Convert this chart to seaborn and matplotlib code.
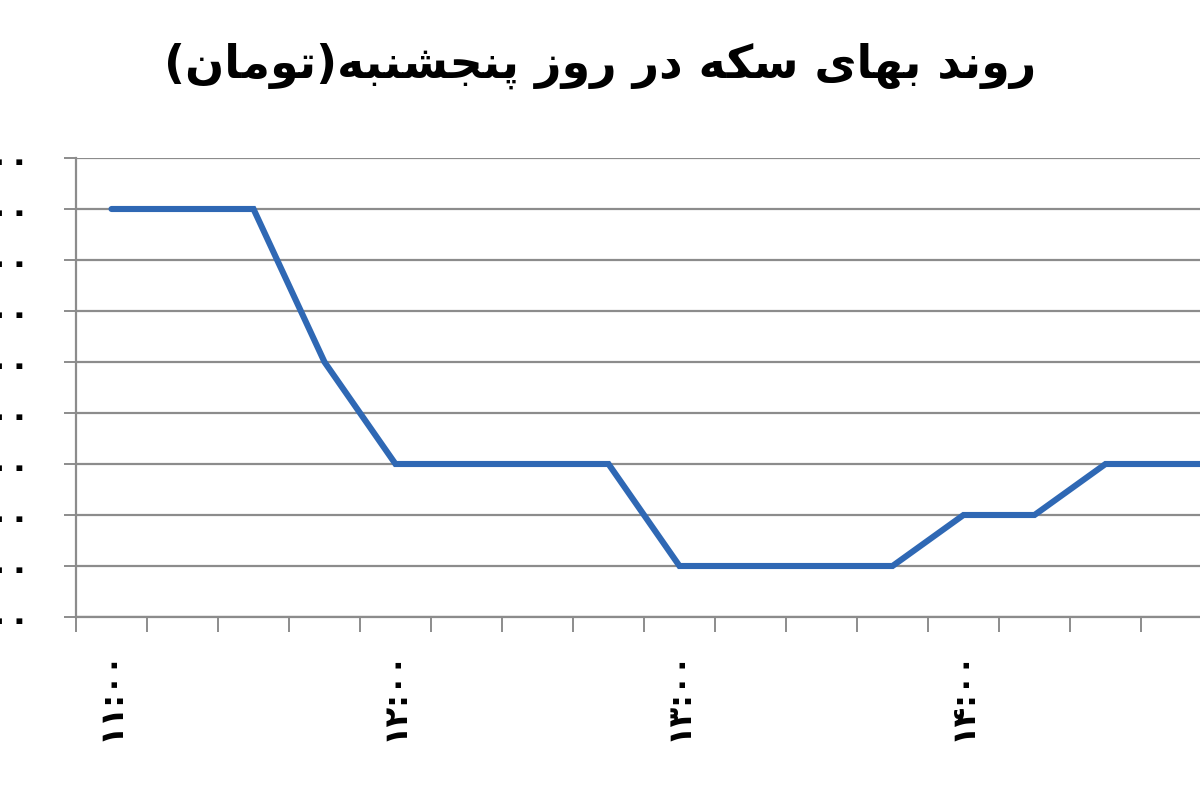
import matplotlib
matplotlib.use("Agg")
import matplotlib.pyplot as plt
import seaborn as sns
import pandas as pd
from matplotlib.ticker import FixedLocator, FuncFormatter

# quarter-hour readings on Thursday (Persian digits)
times = ["۱۱:۰۰", "۱۱:۱۵", "۱۱:۳۰", "۱۱:۴۵",
         "۱۲:۰۰", "۱۲:۱۵", "۱۲:۳۰", "۱۲:۴۵",
         "۱۳:۰۰", "۱۳:۱۵", "۱۳:۳۰", "۱۳:۴۵",
         "۱۴:۰۰", "۱۴:۱۵", "۱۴:۳۰", "۱۴:۴۵",
         "۱۵:۰۰"]
prices = [1128000, 1128000, 1128000, 1125000,
          1123000, 1123000, 1123000, 1123000,
          1121000, 1121000, 1121000, 1121000,
          1122000, 1122000, 1123000, 1123000,
          1123000]
y_ticks = [1120000, 1121000, 1122000, 1123000, 1124000,
           1125000, 1126000, 1127000, 1128000, 1129000]
# labels shown on the (cropped) time axis
shown_times = ["۱۱:۰۰", "۱۲:۰۰", "۱۳:۰۰", "۱۴:۰۰"]
title = "روند بهای سکه در روز پنجشنبه(تومان)"

# matplotlib has no arabic shaping, so do the joining forms by hand
FORMS = {
    "ا": ("\uFE8D", "\uFE8E", None, None),
    "ب": ("\uFE8F", "\uFE90", "\uFE91", "\uFE92"),
    "پ": ("\uFB56", "\uFB57", "\uFB58", "\uFB59"),
    "ت": ("\uFE95", "\uFE96", "\uFE97", "\uFE98"),
    "ج": ("\uFE9D", "\uFE9E", "\uFE9F", "\uFEA0"),
    "د": ("\uFEA9", "\uFEAA", None, None),
    "ر": ("\uFEAD", "\uFEAE", None, None),
    "ز": ("\uFEAF", "\uFEB0", None, None),
    "س": ("\uFEB1", "\uFEB2", "\uFEB3", "\uFEB4"),
    "ش": ("\uFEB5", "\uFEB6", "\uFEB7", "\uFEB8"),
    "ک": ("\uFB8E", "\uFB8F", "\uFB90", "\uFB91"),
    "م": ("\uFEE1", "\uFEE2", "\uFEE3", "\uFEE4"),
    "ن": ("\uFEE5", "\uFEE6", "\uFEE7", "\uFEE8"),
    "ه": ("\uFEE9", "\uFEEA", "\uFEEB", "\uFEEC"),
    "و": ("\uFEED", "\uFEEE", None, None),
    "ی": ("\uFBFC", "\uFBFD", "\uFBFE", "\uFBFF"),
}
MIRROR = {"(": ")", ")": "("}


def shape_rtl(text):
    out = []
    for i, c in enumerate(text):
        if c not in FORMS:
            out.append(MIRROR.get(c, c))
            continue
        prev = text[i - 1] if i > 0 else ""
        nxt = text[i + 1] if i + 1 < len(text) else ""
        joins_prev = prev in FORMS and FORMS[prev][2] is not None
        joins_next = nxt in FORMS and FORMS[c][2] is not None
        iso, fin, ini, med = FORMS[c]
        if joins_prev and joins_next:
            out.append(med)
        elif joins_prev:
            out.append(fin)
        elif joins_next:
            out.append(ini)
        else:
            out.append(iso)
    return "".join(reversed(out))


def to_fa(s):
    return s.translate(str.maketrans("0123456789", "۰۱۲۳۴۵۶۷۸۹"))


df = pd.DataFrame({"slot": range(len(times)), "price": prices})

sns.set_style("white")
plt.rcParams["font.family"] = ["DejaVu Sans"]
plt.rcParams["text.color"] = "black"
plt.rcParams["xtick.labelcolor"] = "black"
plt.rcParams["ytick.labelcolor"] = "black"

fig = plt.figure(figsize=(12, 8), dpi=100)
# plot area runs past the right edge of the picture, like the cropped original
ax = fig.add_axes([76 / 1200, 183 / 800, 71 * len(times) / 1200, 459 / 800])

sns.lineplot(data=df, x="slot", y="price", ax=ax, color="#2f68b4",
             linewidth=4.4, sort=False, solid_joinstyle="miter")

grid_c = "#8c8c8c"
ax.set_ylim(y_ticks[0], y_ticks[-1])
ax.yaxis.set_major_locator(FixedLocator(y_ticks))
ax.yaxis.set_major_formatter(FuncFormatter(lambda v, p: to_fa(f"{int(v):d}")))
ax.grid(axis="y", color=grid_c, linewidth=1.6)
ax.set_axisbelow(True)

ax.set_xlim(-0.5, len(times) - 0.5)
ax.xaxis.set_major_locator(FixedLocator([times.index(t) for t in shown_times]))
ax.set_xticklabels(shown_times, rotation=90, fontsize=23, fontweight="bold")
ax.xaxis.set_minor_locator(FixedLocator([s - 0.5 for s in df["slot"]] + [len(times) - 0.5]))
ax.tick_params(axis="x", which="major", length=0, pad=24)
ax.tick_params(axis="x", which="minor", length=11, width=1.4, color=grid_c, bottom=True)
ax.tick_params(axis="y", length=9, width=1.4, color=grid_c, left=True, pad=24, labelsize=24)
for lab in ax.get_yticklabels():
    lab.set_fontweight("bold")

for side in ["top", "right"]:
    ax.spines[side].set_visible(False)
for side in ["left", "bottom"]:
    ax.spines[side].set_color(grid_c)
    ax.spines[side].set_linewidth(1.6)

ax.set_xlabel("")
ax.set_ylabel("")

fig.text(0.5, 0.918, shape_rtl(title), ha="center", va="center",
         fontsize=33, fontweight="bold", color="black")

fig.savefig("out.png", dpi=100)
